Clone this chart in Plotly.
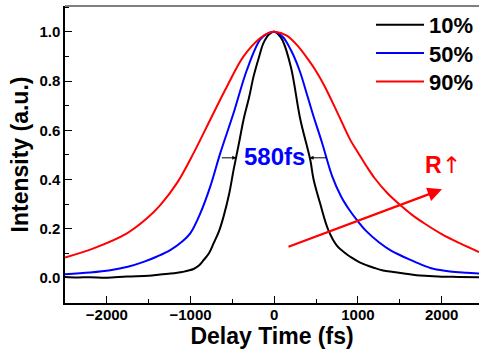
import plotly.graph_objects as go

# ---- data ----
x_10 = [-2500, -2350, -2200, -2000, -1760, -1500, -1362, -1200, -1100, -964, -900, -845, -780,
        -725, -660, -606, -540, -486, -420, -367, -300, -247, -180, -128, -60, 0, 60, 100, 200,
        311, 430, 470, 550, 645, 750, 850, 908, 1027, 1200, 1300, 1422, 1550, 1700, 1850, 2000,
        2200, 2446]
y_10 = [0.004, 0.002, 0.003, 0.001, 0.006, 0.009, 0.014, 0.019, 0.024, 0.036, 0.05, 0.072, 0.10,
        0.14, 0.19, 0.249, 0.34, 0.439, 0.55, 0.643, 0.735, 0.819, 0.90, 0.955, 0.99, 1.0, 0.985,
        0.965, 0.855, 0.645, 0.48, 0.40, 0.30, 0.195, 0.13, 0.10, 0.086, 0.062, 0.040, 0.030,
        0.024, 0.018, 0.011, 0.008, 0.005, 0.004, 0.003]

x_50 = [-2500, -2200, -1959, -1750, -1561, -1400, -1243, -1100, -1004, -884, -765, -645, -486,
        -326, -167, -80, 0, 100, 200, 300, 400, 466, 570, 690, 800, 900, 988, 1100, 1250, 1400,
        1505, 1600, 1750, 1900, 2100, 2300, 2446]
y_50 = [0.015, 0.022, 0.031, 0.045, 0.065, 0.087, 0.113, 0.148, 0.181, 0.262, 0.371, 0.507, 0.67,
        0.846, 0.969, 0.993, 1.0, 0.98, 0.925, 0.845, 0.735, 0.66, 0.55, 0.415, 0.33, 0.275,
        0.235, 0.19, 0.145, 0.11, 0.092, 0.077, 0.055, 0.037, 0.026, 0.021, 0.018]

x_90 = [-2500, -2159, -1760, -1521, -1362, -1163, -964, -765, -565, -367, -167, -60, 0, 150, 300,
        400, 500, 600, 750, 908, 1000, 1100, 1200, 1350, 1505, 1650, 1800, 2000, 2222, 2446]
y_90 = [0.083, 0.12, 0.181, 0.242, 0.296, 0.385, 0.507, 0.643, 0.778, 0.90, 0.975, 0.997, 1.0,
        0.985, 0.935, 0.89, 0.84, 0.78, 0.675, 0.561, 0.51, 0.455, 0.405, 0.345, 0.296, 0.255,
        0.22, 0.178, 0.14, 0.105]

series_names = ["10%", "50%", "90%"]
series_colors = ["#000000", "#0000ff", "#ff0000"]
x_ticks = [-2000, -1000, 0, 1000, 2000]
y_ticks = [0.0, 0.2, 0.4, 0.6, 0.8, 1.0]

FONT = "Liberation Sans, Arial, sans-serif"

fig = go.Figure()
legend_ids = ["legend", "legend2", "legend3"]
for xs, ys, name, col, lg in zip([x_10, x_50, x_90], [y_10, y_50, y_90],
                                 series_names, series_colors, legend_ids):
    fig.add_trace(go.Scatter(x=xs, y=ys, mode="lines", name=name, legend=lg,
                             line=dict(color=col, width=2, shape="spline", smoothing=1.0)))

legend_rows = [0.936, 0.841, 0.745]
legend_common = dict(x=1.0, xanchor="right", yanchor="middle", bgcolor="rgba(0,0,0,0)",
                     borderwidth=0, itemwidth=48,
                     font=dict(size=22, family=FONT, weight="bold", color="black"))

fig.update_layout(
    width=479, height=351,
    margin=dict(l=65, r=0, t=6, b=48),
    plot_bgcolor="white", paper_bgcolor="white",
    font=dict(family=FONT, color="black"),
    showlegend=True,
    legend=dict(y=legend_rows[0], **legend_common),
    legend2=dict(y=legend_rows[1], **legend_common),
    legend3=dict(y=legend_rows[2], **legend_common),
    xaxis=dict(range=[-2500, 2446], tickvals=x_ticks, ticks="inside", ticklen=7, tickwidth=1.3,
               tickcolor="black", showline=True, linecolor="black", linewidth=1.5,
               showgrid=False, zeroline=False, ticklabelstandoff=-3,
               minor=dict(dtick=500, ticks="inside", ticklen=4, tickwidth=1, tickcolor="black",
                          showgrid=False, tick0=0),
               tickfont=dict(size=15, family=FONT, weight="bold"),
               title=dict(text="Delay Time (fs)", font=dict(size=23, family=FONT, weight="bold"),
                          standoff=0)),
    yaxis=dict(range=[-0.102, 1.105], tickvals=y_ticks, tickformat=".1f", ticks="inside",
               ticklen=7, tickwidth=1.3, tickcolor="black", showline=True, linecolor="black",
               linewidth=1.5, showgrid=False, zeroline=False,
               minor=dict(dtick=0.1, ticks="inside", ticklen=4, tickwidth=1, tickcolor="black",
                          showgrid=False, tick0=0),
               tickfont=dict(size=15, family=FONT, weight="bold"),
               title=dict(text="Intensity (a.u.)", font=dict(size=23, family=FONT, weight="bold"),
                          standoff=4)),
)

# top frame line
fig.add_shape(type="line", xref="paper", yref="paper", x0=0, x1=1, y0=1, y1=1,
              line=dict(color="#555555", width=1.5))

# 580fs label and arrows
fig.add_annotation(x=0, y=0.492, text="580fs", showarrow=False,
                   font=dict(size=24, family=FONT, weight="bold", color="#0000ff"))
fig.add_annotation(x=-454, y=0.488, ax=-645, ay=0.488, axref="x", ayref="y", text="",
                   showarrow=True, arrowhead=2, arrowsize=0.8, arrowwidth=1, arrowcolor="black")
fig.add_annotation(x=422, y=0.488, ax=645, ay=0.488, axref="x", ayref="y", text="",
                   showarrow=True, arrowhead=2, arrowsize=0.8, arrowwidth=1, arrowcolor="black")

# R arrow
fig.add_annotation(x=2004, y=0.36, ax=152, ay=0.124, axref="x", ayref="y", text="",
                   showarrow=True, arrowhead=2, arrowsize=1.3, arrowwidth=2.2, arrowcolor="#ff0000")
fig.add_annotation(x=2019, y=0.46,
                   text="R<span style='font-family:DejaVu Sans;font-weight:normal'>↑</span>",
                   showarrow=False,
                   font=dict(size=23, family=FONT, weight="bold", color="#ff0000"))

fig.write_html("out.html")
